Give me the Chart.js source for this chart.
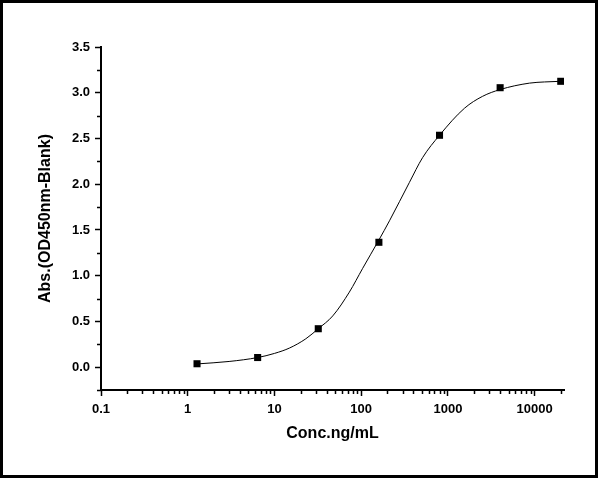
<!DOCTYPE html>
<html lang="en">
<head>
  <meta charset="UTF-8" />
  <title>ELISA standard curve</title>
  <script src="https://cdn.jsdelivr.net/npm/chart.js"></script>
  <style>
    html, body { margin: 0; padding: 0; background: #fff; }
    #wrap { position: relative; width: 601px; height: 479px; }
    #frame {
      position: absolute; left: 0; top: 0; width: 598px; height: 478px;
      box-sizing: border-box; border: 3px solid #000; pointer-events: none;
    }
  </style>
</head>
<body>
  <div id="wrap">
    <canvas id="curveChart" width="601" height="479"></canvas>
    <div id="frame"></div>
  </div>

  <script>
    // measured standards (5-fold dilution)
    const standardConc = [1.28, 6.4, 32, 160, 800, 4000, 20000];
    const standardAbs  = [0.037, 0.105, 0.42, 1.365, 2.535, 3.055, 3.125];

    // fitted curve
    const curveConc = [1.28, 3, 6.4, 10, 15, 23, 32, 47, 73, 104, 160, 212, 360, 510, 800, 1550, 2500, 4000, 8700, 13000, 20000];
    const curveAbs  = [0.035, 0.062, 0.105, 0.15, 0.21, 0.31, 0.42, 0.56, 0.82, 1.08, 1.39, 1.60, 2.02, 2.29, 2.535, 2.83, 2.96, 3.035, 3.105, 3.118, 3.125];

    // axis ticks
    const xMajorTicks = [0.1, 1, 10, 100, 1000, 10000];
    const xMinorTicks = [];
    xMajorTicks.forEach(d => { for (let k = 2; k <= 9; k++) xMinorTicks.push(d * k); });
    xMinorTicks.push(20000);
    const yMajorTicks = [0, 0.5, 1.0, 1.5, 2.0, 2.5, 3.0, 3.5];
    const yMinorTicks = [-0.25, 0.25, 0.75, 1.25, 1.75, 2.25, 2.75, 3.25];

    const tickFont = { family: "'Liberation Sans', Arial, sans-serif", size: 13, weight: 'bold' };
    const titleFont = { family: "'Liberation Sans', Arial, sans-serif", size: 16, weight: 'bold' };

    // small ticks between the labelled ones
    const minorTicks = {
      id: 'minorTicks',
      afterDraw(chart) {
        const { ctx, chartArea, scales } = chart;
        ctx.save();
        ctx.strokeStyle = '#000';
        ctx.lineWidth = 1.5;
        ctx.beginPath();
        xMinorTicks.forEach(v => {
          if (v > scales.x.max) return;
          const px = Math.round(scales.x.getPixelForValue(v)) + 0.5;
          ctx.moveTo(px, chartArea.bottom);
          ctx.lineTo(px, chartArea.bottom + 4);
        });
        yMinorTicks.forEach(v => {
          const py = Math.round(scales.y.getPixelForValue(v)) + 0.5;
          ctx.moveTo(chartArea.left, py);
          ctx.lineTo(chartArea.left - 4, py);
        });
        ctx.stroke();
        ctx.restore();
      }
    };

    const ctx = document.getElementById('curveChart').getContext('2d');
    new Chart(ctx, {
      type: 'scatter',
      data: {
        datasets: [
          {
            label: 'Standards',
            data: standardConc.map((c, i) => ({ x: c, y: standardAbs[i] })),
            pointStyle: 'rect',
            pointRadius: 5,
            backgroundColor: '#000',
            borderColor: '#000',
            borderWidth: 0,
            order: 0
          },
          {
            label: 'Fit',
            data: curveConc.map((c, i) => ({ x: c, y: curveAbs[i] })),
            showLine: true,
            pointRadius: 0,
            borderColor: '#000',
            borderWidth: 1,
            cubicInterpolationMode: 'monotone',
            order: 1
          }
        ]
      },
      options: {
        responsive: false,
        devicePixelRatio: 1,
        animation: false,
        layout: { padding: { left: 0, top: 47, right: 37, bottom: 0 } },
        plugins: { legend: { display: false }, tooltip: { enabled: false } },
        scales: {
          x: {
            type: 'logarithmic',
            min: 0.1,
            max: 21800,
            afterBuildTicks: s => { s.ticks = xMajorTicks.map(v => ({ value: v })); },
            afterFit: s => { s.height = 89; },
            ticks: {
              color: '#000', font: tickFont, padding: 6, maxRotation: 0, autoSkip: false,
              callback: v => String(v)
            },
            grid: { drawOnChartArea: false, tickLength: 6, tickWidth: 1.5, tickColor: '#000' },
            border: { color: '#000', width: 2 },
            title: { display: true, text: 'Conc.ng/mL', color: '#000', font: titleFont, padding: { top: 0, bottom: 36 } }
          },
          y: {
            min: -0.25,
            max: 3.5,
            afterBuildTicks: s => { s.ticks = yMajorTicks.map(v => ({ value: v })); },
            afterFit: s => { s.width = 101; },
            ticks: { color: '#000', font: tickFont, padding: 5, callback: v => v.toFixed(1) },
            grid: { drawOnChartArea: false, tickLength: 6, tickWidth: 1.5, tickColor: '#000' },
            border: { color: '#000', width: 2 },
            title: { display: true, text: 'Abs.(OD450nm-Blank)', color: '#000', font: titleFont, padding: { top: 36, bottom: 0 } }
          }
        }
      },
      plugins: [minorTicks]
    });
  </script>
</body>
</html>
